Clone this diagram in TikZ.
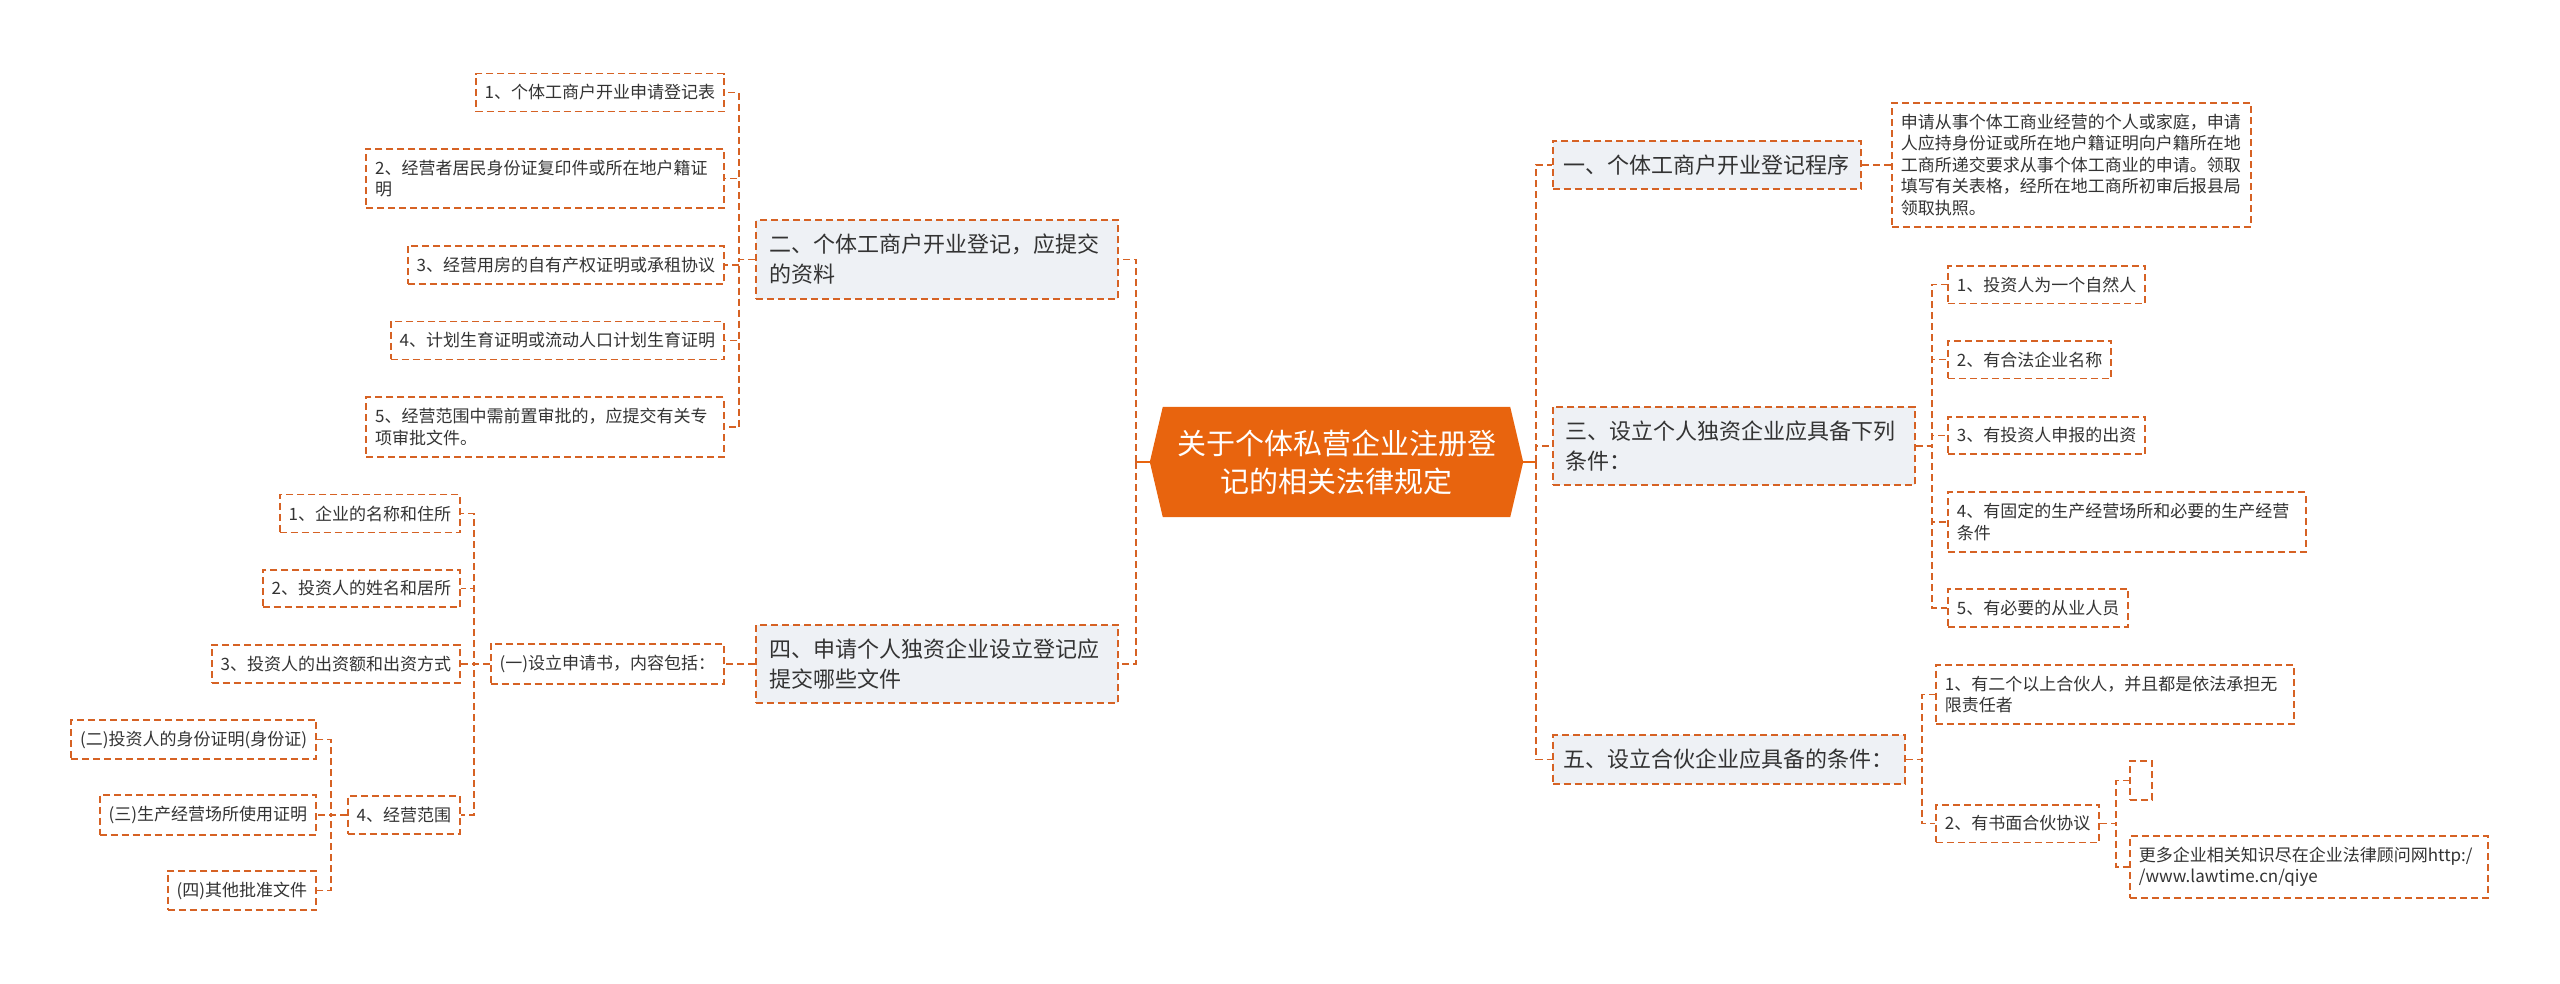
\documentclass[tikz,border=0pt]{standalone}
\usepackage{fontspec}
\setmainfont{Noto Sans CJK SC}
\usetikzlibrary{backgrounds}
\definecolor{orn}{RGB}{232,100,14}
\definecolor{bdr}{RGB}{214,98,36}
\definecolor{lvl}{RGB}{238,241,245}
\definecolor{txt}{RGB}{51,51,51}
\begin{document}
\begin{tikzpicture}[x=1pt,y=-1pt,
  conn/.style={draw=bdr, line width=1.8pt, dash pattern=on 7pt off 4pt},
  stub/.style={draw=orn, line width=2pt},
  box/.style={draw=bdr, line width=1.8pt, dash pattern=on 7pt off 4pt, align=left,
    inner xsep=9pt, inner ysep=11pt, fill=white, text=txt,
    font=\fontsize{17}{21.5}\selectfont},
  wide/.style={box, text width=340pt},
  main/.style={box, fill=lvl, inner xsep=11pt, inner ysep=14pt,
    font=\fontsize{22}{30}\selectfont},
  main2/.style={main, text width=336pt, inner xsep=13pt},
  rootbox/.style={minimum width=373pt, minimum height=110pt, inner sep=0pt,
    text=white, align=center, font=\fontsize{29}{38}\selectfont}
]
\useasboundingbox (0,0) rectangle (2560,983);

% root
\node[rootbox] (root) at (1336.5,462) {关于个体私营企业注册登\\记的相关法律规定};
\begin{scope}[on background layer]
\fill[orn] ([xshift=13pt]root.north west) -- ([xshift=-13pt]root.north east) -- (root.east)
  -- ([xshift=-13pt]root.south east) -- ([xshift=13pt]root.south west) -- (root.west) -- cycle;
\end{scope}

% level 1
\node[main2, anchor=east] (n2) at (1119,259.5) {二、个体工商户开业登记，应提交\\的资料};
\node[main2, anchor=east] (n4) at (1119,664) {四、申请个人独资企业设立登记应\\提交哪些文件};
\node[main, anchor=west] (n1) at (1552,165) {一、个体工商户开业登记程序};
\node[main2, anchor=west] (n3) at (1552,446) {三、设立个人独资企业应具备下列\\条件：};
\node[main, anchor=west] (n5) at (1552,759.5) {五、设立合伙企业应具备的条件：};

% left upper leaves
\node[box, anchor=east] (l1) at (725,92.5) {1、个体工商户开业申请登记表};
\node[wide, anchor=east] (l2) at (725,178.5) {2、经营者居民身份证复印件或所在地户籍证\\明};
\node[box, anchor=east] (l3) at (725,265) {3、经营用房的自有产权证明或承租协议};
\node[box, anchor=east] (l4) at (725,340.5) {4、计划生育证明或流动人口计划生育证明};
\node[wide, anchor=east] (l5) at (725,427) {5、经营范围中需前置审批的，应提交有关专\\项审批文件。};

% left lower
\node[box, anchor=east] (c0) at (725,664) {(一)设立申请书，内容包括：};
\node[box, anchor=east] (c1) at (461,513.5) {1、企业的名称和住所};
\node[box, anchor=east] (c2) at (461,588.5) {2、投资人的姓名和居所};
\node[box, anchor=east] (c3) at (461,664) {3、投资人的出资额和出资方式};
\node[box, anchor=east] (c4) at (461,815) {4、经营范围};
\node[box, anchor=east] (d1) at (317,739.5) {(二)投资人的身份证明(身份证)};
\node[box, anchor=east] (d2) at (317,815) {(三)生产经营场所使用证明};
\node[box, anchor=east] (d3) at (317,890.5) {(四)其他批准文件};

% right
\node[wide, anchor=west, text width=341pt] (tb) at (1891,165) {申请从事个体工商业经营的个人或家庭，申请\\人应持身份证或所在地户籍证明向户籍所在地\\工商所递交要求从事个体工商业的申请。领取\\填写有关表格，经所在地工商所初审后报县局\\领取执照。};
\node[box, anchor=west] (r1) at (1947,284.5) {1、投资人为一个自然人};
\node[box, anchor=west] (r2) at (1947,359.5) {2、有合法企业名称};
\node[box, anchor=west] (r3) at (1947,435.5) {3、有投资人申报的出资};
\node[wide, anchor=west] (r4) at (1947,522) {4、有固定的生产经营场所和必要的生产经营\\条件};
\node[box, anchor=west] (r5) at (1947,608) {5、有必要的从业人员};
\node[wide, anchor=west] (f1) at (1935,694.5) {1、有二个以上合伙人，并且都是依法承担无\\限责任者};
\node[box, anchor=west] (f2) at (1935,823.5) {2、有书面合伙协议};
\node[box, anchor=west, minimum width=22pt, minimum height=39pt, inner sep=0pt] (g1) at (2129,780.5) {};
\node[wide, anchor=west] (g2) at (2129,867) {更多企业相关知识尽在企业法律顾问网http:/\\/www.lawtime.cn/qiye};

% connectors
\coordinate (lx) at (1136,462);
\coordinate (rx) at (1536,462);
\draw[stub] (root.west) -- (lx);
\draw[stub] (root.east) -- (rx);
\draw[conn] (lx) |- (n2.east);
\draw[conn] (lx) |- (n4.east);
\draw[conn] (rx) |- (n1.west);
\draw[conn] (rx) |- (n3.west);
\draw[conn] (rx) |- (n5.west);
\draw[conn] (n1.east) -- (tb.west);
\foreach \c in {l1,l2,l3,l4,l5} \draw[conn] (n2.west) -- ++(-16,0) |- (\c.east);
\draw[conn] (n4.west) -- (c0.east);
\foreach \c in {c1,c2,c3,c4} \draw[conn] (c0.west) -- ++(-16,0) |- (\c.east);
\foreach \c in {d1,d2,d3} \draw[conn] (c4.west) -- ++(-16,0) |- (\c.east);
\foreach \c in {r1,r2,r3,r4,r5} \draw[conn] (n3.east) -- ++(16,0) |- (\c.west);
\foreach \c in {f1,f2} \draw[conn] (n5.east) -- ++(16,0) |- (\c.west);
\foreach \c in {g1,g2} \draw[conn] (f2.east) -- ++(16,0) |- (\c.west);
\end{tikzpicture}
\end{document}
